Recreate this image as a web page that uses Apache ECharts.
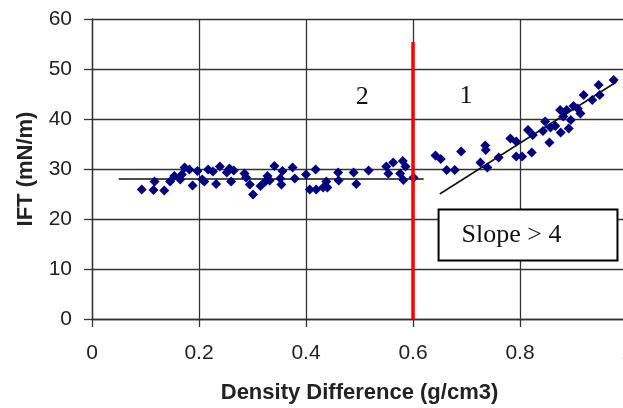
<!DOCTYPE html>
<html>
<head>
<meta charset="utf-8">
<script src="https://cdn.jsdelivr.net/npm/echarts@6/dist/echarts.min.js"></script>
<style>
    html, body { margin: 0; padding: 0; background: #fff; }
    #chart { width: 623px; height: 408px; }
</style>
</head>
<body>
<div id="chart"></div>
<script>
// measured points, region 2 (low density difference)
const region2Points = [
    [0.093, 25.9], [0.115, 25.8], [0.117, 27.5], [0.135, 25.7], [0.146, 27.5],
    [0.154, 28.6], [0.165, 27.9], [0.168, 28.9], [0.173, 30.3], [0.182, 29.9],
    [0.188, 26.7], [0.197, 29.6], [0.206, 27.9], [0.21, 27.5], [0.217, 29.9],
    [0.226, 29.5], [0.232, 27.0], [0.239, 30.5], [0.252, 29.3], [0.257, 30.1],
    [0.26, 27.5], [0.265, 29.7], [0.285, 29.1], [0.288, 28.3], [0.295, 26.9],
    [0.301, 24.9], [0.315, 26.6], [0.324, 27.5], [0.328, 28.6], [0.332, 27.7],
    [0.341, 30.6], [0.352, 28.1], [0.354, 26.9], [0.356, 29.6], [0.375, 30.3],
    [0.379, 28.1], [0.4, 28.9], [0.407, 25.9], [0.418, 29.9], [0.419, 25.9],
    [0.432, 26.3], [0.438, 27.5], [0.44, 26.3], [0.46, 29.3], [0.461, 27.7],
    [0.489, 29.3], [0.494, 27.0], [0.517, 29.7], [0.55, 30.5], [0.554, 29.1],
    [0.563, 31.3], [0.576, 29.1], [0.581, 31.6], [0.582, 27.8], [0.586, 30.5],
    [0.601, 28.3]
];

// measured points, region 1 (high density difference)
const region1Points = [
    [0.642, 32.7], [0.652, 32.0], [0.663, 29.8], [0.678, 29.8], [0.69, 33.5],
    [0.726, 31.3], [0.735, 34.7], [0.736, 33.8], [0.739, 30.3], [0.76, 32.3],
    [0.782, 36.1], [0.793, 35.5], [0.793, 32.5], [0.804, 32.5], [0.815, 37.8],
    [0.822, 33.3], [0.824, 36.8], [0.843, 37.6], [0.847, 39.5], [0.855, 35.3],
    [0.857, 38.3], [0.866, 38.6], [0.875, 41.8], [0.876, 37.3], [0.881, 40.5],
    [0.887, 41.8], [0.891, 38.1], [0.895, 39.8], [0.9, 42.6], [0.908, 42.1],
    [0.913, 41.1], [0.919, 44.8], [0.935, 43.8], [0.947, 46.8], [0.949, 44.8],
    [0.975, 47.8]
];

const flatTrend = [[0.05, 28], [0.62, 28]];
const steepTrend = [[0.65, 25], [0.98, 47.4]];
const boundary = [[0.6, 0], [0.6, 55.4]];
const regionLabels = [
    { name: '2', value: [0.505, 44.3] },
    { name: '1', value: [0.699, 44.5] }
];
const slopeNote = { name: 'Slope > 4', value: [0.815, 16.8] };

const xTicks = { min: 0, max: 1, interval: 0.2 };
const yTicks = { min: 0, max: 60, interval: 10 };

const chart = echarts.init(document.getElementById('chart'));

const gridLine = { color: '#333', width: 1.3 };
const tickFont = { fontFamily: 'Liberation Sans', fontSize: 21, color: '#222' };

chart.setOption({
    animation: false,
    grid: {
        left: 92,
        top: 19,
        width: 535,
        height: 300,
        outerBoundsMode: 'none'
    },
    xAxis: {
        type: 'value',
        min: xTicks.min,
        max: xTicks.max,
        interval: xTicks.interval,
        name: 'Density Difference (g/cm3)',
        nameLocation: 'middle',
        nameGap: 63,
        nameTextStyle: {
            fontFamily: 'Liberation Sans',
            fontSize: 22,
            fontWeight: 'bold',
            color: '#222'
        },
        axisLine: { lineStyle: gridLine },
        axisTick: { show: true, length: 8, lineStyle: gridLine },
        splitLine: { show: true, lineStyle: gridLine },
        axisLabel: Object.assign({ margin: 24 }, tickFont)
    },
    yAxis: {
        type: 'value',
        min: yTicks.min,
        max: yTicks.max,
        interval: yTicks.interval,
        name: 'IFT (mN/m)',
        nameLocation: 'middle',
        nameGap: 55,
        nameTextStyle: {
            fontFamily: 'Liberation Sans',
            fontSize: 22,
            fontWeight: 'bold',
            color: '#222'
        },
        axisLine: { show: true, lineStyle: gridLine },
        axisTick: { show: true, length: 8, lineStyle: gridLine },
        splitLine: { show: true, lineStyle: gridLine },
        axisLabel: Object.assign({ margin: 20 }, tickFont)
    },
    series: [
        {
            type: 'line',
            data: flatTrend,
            symbol: 'none',
            lineStyle: { color: '#111', width: 1.5 },
            z: 3
        },
        {
            type: 'line',
            data: steepTrend,
            symbol: 'none',
            lineStyle: { color: '#111', width: 1.5 },
            z: 3
        },
        {
            type: 'scatter',
            data: region2Points.concat(region1Points),
            symbol: 'diamond',
            symbolSize: 10,
            itemStyle: { color: '#000080', opacity: 1 },
            z: 4
        },
        {
            type: 'line',
            data: boundary,
            symbol: 'none',
            lineStyle: { color: '#ff0000', width: 3.5 },
            z: 5
        },
        {
            type: 'scatter',
            data: regionLabels,
            symbolSize: 0,
            itemStyle: { opacity: 1 },
            label: {
                show: true,
                position: 'inside',
                formatter: '{b}',
                fontFamily: 'Liberation Serif',
                fontSize: 26,
                color: '#111',
                textBorderWidth: 0
            },
            z: 6
        },
        {
            type: 'scatter',
            data: [slopeNote],
            symbolSize: 0,
            itemStyle: { opacity: 1 },
            label: {
                show: true,
                position: 'inside',
                formatter: '{b}',
                fontFamily: 'Liberation Serif',
                fontSize: 26,
                color: '#111',
                textBorderWidth: 0,
                textShadowBlur: 0,
                backgroundColor: '#fff',
                borderColor: '#000',
                borderWidth: 2,
                lineHeight: 30,
                padding: [18, 55, 1, 22]
            },
            z: 6
        }
    ]
});
</script>
</body>
</html>
